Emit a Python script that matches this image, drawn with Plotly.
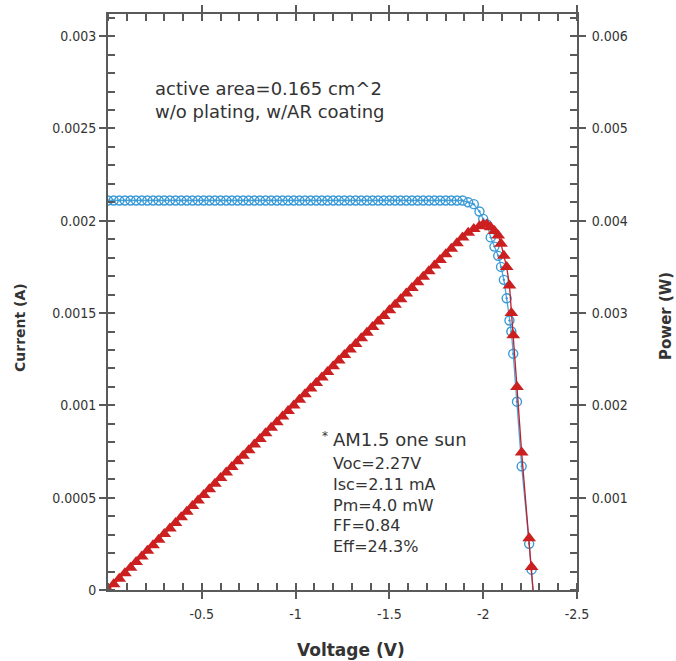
import plotly.graph_objects as go

# ---------------- data ----------------
voltage = [0.00, -0.03, -0.06, -0.09, -0.12, -0.15, -0.18, -0.21, -0.24, -0.27,
           -0.30, -0.33, -0.36, -0.39, -0.42, -0.45, -0.48, -0.51, -0.54, -0.57,
           -0.60, -0.63, -0.66, -0.69, -0.72, -0.75, -0.78, -0.81, -0.84, -0.87,
           -0.90, -0.93, -0.96, -0.99, -1.02, -1.05, -1.08, -1.11, -1.14, -1.17,
           -1.20, -1.23, -1.26, -1.29, -1.32, -1.35, -1.38, -1.41, -1.44, -1.47,
           -1.50, -1.53, -1.56, -1.59, -1.62, -1.65, -1.68, -1.71, -1.74, -1.77,
           -1.80, -1.83, -1.86,
           -1.89, -1.92, -1.95, -1.98, -2.00, -2.02, -2.04, -2.06, -2.08, -2.095,
           -2.11, -2.125, -2.14, -2.15, -2.16, -2.18, -2.205, -2.245, -2.258, -2.27]

current = [0.00211, 0.00211, 0.00211, 0.00211, 0.00211, 0.00211, 0.00211, 0.00211, 0.00211, 0.00211,
           0.00211, 0.00211, 0.00211, 0.00211, 0.00211, 0.00211, 0.00211, 0.00211, 0.00211, 0.00211,
           0.00211, 0.00211, 0.00211, 0.00211, 0.00211, 0.00211, 0.00211, 0.00211, 0.00211, 0.00211,
           0.00211, 0.00211, 0.00211, 0.00211, 0.00211, 0.00211, 0.00211, 0.00211, 0.00211, 0.00211,
           0.00211, 0.00211, 0.00211, 0.00211, 0.00211, 0.00211, 0.00211, 0.00211, 0.00211, 0.00211,
           0.00211, 0.00211, 0.00211, 0.00211, 0.00211, 0.00211, 0.00211, 0.00211, 0.00211, 0.00211,
           0.00211, 0.00211, 0.00211,
           0.00211, 0.00210, 0.00209, 0.00205, 0.00201, 0.00198, 0.00191, 0.00186, 0.00181, 0.00175,
           0.00168, 0.00158, 0.00146, 0.00140, 0.00128, 0.00102, 0.00067, 0.00025, 0.00011, -0.00005]

power = [0.0, 0.000061, 0.000121, 0.000182, 0.000242, 0.000303, 0.000364, 0.000424, 0.000485, 0.000545,
         0.000606, 0.000667, 0.000727, 0.000788, 0.000848, 0.000909, 0.000970, 0.001030, 0.001091, 0.001151,
         0.001212, 0.001273, 0.001333, 0.001394, 0.001454, 0.001515, 0.001576, 0.001636, 0.001697, 0.001757,
         0.001818, 0.001879, 0.001939, 0.002000, 0.002060, 0.002121, 0.002182, 0.002242, 0.002303, 0.002363,
         0.002424, 0.002485, 0.002545, 0.002606, 0.002666, 0.002727, 0.002788, 0.002848, 0.002909, 0.002969,
         0.003030, 0.003091, 0.003151, 0.003212, 0.003272, 0.003333, 0.003394, 0.003454, 0.003515, 0.003575,
         0.003636, 0.003697, 0.003757,
         0.00382, 0.00387, 0.00391, 0.00394, 0.00396, 0.00396, 0.00393, 0.00389, 0.00384, 0.00375,
         0.00362, 0.00350, 0.00330, 0.00300, 0.00276, 0.00220, 0.00149, 0.00056, 0.00025, -0.00011]

x_tickvals = [-0.5, -1, -1.5, -2, -2.5]
x_ticktext = ["-0.5", "-1", "-1.5", "-2", "-2.5"]
yl_tickvals = [0, 0.0005, 0.001, 0.0015, 0.002, 0.0025, 0.003]
yl_ticktext = ["0", "0.0005", "0.001", "0.0015", "0.002", "0.0025", "0.003"]
yr_tickvals = [0.001, 0.002, 0.003, 0.004, 0.005, 0.006]
yr_ticktext = ["0.001", "0.002", "0.003", "0.004", "0.005", "0.006"]

note_top = "active area=0.165 cm^2<br>w/o plating, w/AR coating"
note_sun = "AM1.5 one sun"
note_values = "Voc=2.27V<br>Isc=2.11 mA<br>Pm=4.0 mW<br>FF=0.84<br>Eff=24.3%"

# ---------------- styling ----------------
X_RANGE = [0, -2.5]
YL_RANGE = [0, 0.00312]
YR_RANGE = [0, 0.00624]
AX = "#5a5a5a"
TXT = "#333333"
TICKFONT = dict(family="Liberation Sans Narrow, DejaVu Sans Condensed, Arial Narrow, sans-serif",
                size=14, color=TXT)
BLUE = "#3a9ad6"
RED = "#cc1f1f"

fig = go.Figure()
fig.add_trace(go.Scatter(
    x=voltage, y=current, mode="lines+markers", xaxis="x", yaxis="y",
    line=dict(color="#4aa8e0", width=1.3),
    marker=dict(symbol="circle-open-dot", size=9, color=BLUE, line=dict(width=1.4, color=BLUE)),
    showlegend=False, hoverinfo="skip"))
fig.add_trace(go.Scatter(
    x=voltage, y=power, mode="lines+markers", xaxis="x", yaxis="y2",
    line=dict(color="#c0202a", width=1.3),
    marker=dict(symbol="triangle-up", size=12, color=RED, line=dict(width=0)),
    showlegend=False, hoverinfo="skip"))
# empty trace to activate the overlay axes carrying the inner half of the major ticks
fig.add_trace(go.Scatter(x=[], y=[], xaxis="x2", yaxis="y3", showlegend=False, hoverinfo="skip"))

minor_common = dict(ticks="inside", ticklen=7, tickwidth=1.5, tickcolor=AX, showgrid=False)

fig.update_layout(
    width=676, height=661,
    margin=dict(l=108, r=99, t=14, b=71, autoexpand=False),
    paper_bgcolor="white", plot_bgcolor="white",
    xaxis=dict(range=X_RANGE, tickvals=x_tickvals, ticktext=x_ticktext,
               ticks="outside", ticklen=7, tickwidth=1.5, tickcolor=AX,
               minor=dict(dtick=0.1, tick0=0, **minor_common),
               showline=True, linecolor=AX, linewidth=2, mirror="ticks", automargin=False,
               showgrid=False, zeroline=False, tickfont=TICKFONT, ticklabelstandoff=3),
    xaxis2=dict(range=X_RANGE, overlaying="x", tickvals=x_tickvals, ticks="inside", ticklen=7,
                tickwidth=1.5, tickcolor=AX, showticklabels=False, showline=True, automargin=False,
                linecolor=AX, linewidth=2, mirror="ticks", showgrid=False, zeroline=False),
    yaxis=dict(range=YL_RANGE, tickvals=yl_tickvals, ticktext=yl_ticktext,
               ticks="outside", ticklen=7, tickwidth=1.5, tickcolor=AX,
               minor=dict(dtick=0.0001, tick0=0, **minor_common),
               showline=True, linecolor=AX, linewidth=2, automargin=False,
               showgrid=False, zeroline=False, tickfont=TICKFONT, ticklabelstandoff=0),
    yaxis2=dict(range=YR_RANGE, overlaying="y", side="right", tickvals=yr_tickvals, ticktext=yr_ticktext,
                ticks="outside", ticklen=7, tickwidth=1.5, tickcolor=AX,
                minor=dict(dtick=0.0002, tick0=0, **minor_common),
                showline=True, linecolor=AX, linewidth=2, automargin=False,
                showgrid=False, zeroline=False, tickfont=TICKFONT, ticklabelstandoff=3),
    yaxis3=dict(range=YL_RANGE, overlaying="y", tickvals=yl_tickvals, ticks="inside", ticklen=7,
                tickwidth=1.5, tickcolor=AX, showticklabels=False, showline=True, automargin=False,
                linecolor=AX, linewidth=2, mirror="ticks", showgrid=False, zeroline=False),
)

W, H = 469.0, 576.0
def px(x):
    return (x - 108) / W
def py(y):
    return (590 - y) / H

ann_font = dict(family="DejaVu Sans, Arial, sans-serif", color=TXT)
fig.add_annotation(text=note_top, xref="paper", yref="paper", x=px(153), y=py(100),
                   xanchor="left", yanchor="middle", align="left", showarrow=False,
                   font=dict(size=18, **ann_font))
fig.add_annotation(text=note_sun, xref="paper", yref="paper", x=px(331), y=py(440),
                   xanchor="left", yanchor="middle", align="left", showarrow=False,
                   font=dict(size=18, **ann_font))
fig.add_annotation(text=note_values, xref="paper", yref="paper", x=px(331), y=py(505),
                   xanchor="left", yanchor="middle", align="left", showarrow=False,
                   font=dict(size=16, **ann_font))
fig.add_annotation(text="*", xref="paper", yref="paper", x=px(325), y=py(436),
                   xanchor="center", yanchor="middle", showarrow=False,
                   font=dict(size=12, **ann_font))

title_font = dict(family="DejaVu Sans, Arial, sans-serif", color=TXT, weight="bold")
fig.add_annotation(text="Current (A)", xref="paper", yref="paper", x=px(20), y=py(328),
                   textangle=-90, showarrow=False, xanchor="center", yanchor="middle",
                   font=dict(size=14, **title_font))
fig.add_annotation(text="Power (W)", xref="paper", yref="paper", x=px(666), y=py(316),
                   textangle=-90, showarrow=False, xanchor="center", yanchor="middle",
                   font=dict(size=15, **title_font))
fig.add_annotation(text="Voltage (V)", xref="paper", yref="paper", x=px(351), y=py(650),
                   showarrow=False, xanchor="center", yanchor="middle",
                   font=dict(size=17, **title_font))

# remove the browser's default 8px body margin so the figure sits at the window corner
fig.write_html("out.html", config={"displayModeBar": False},
               post_script="document.body.style.margin='0';")
